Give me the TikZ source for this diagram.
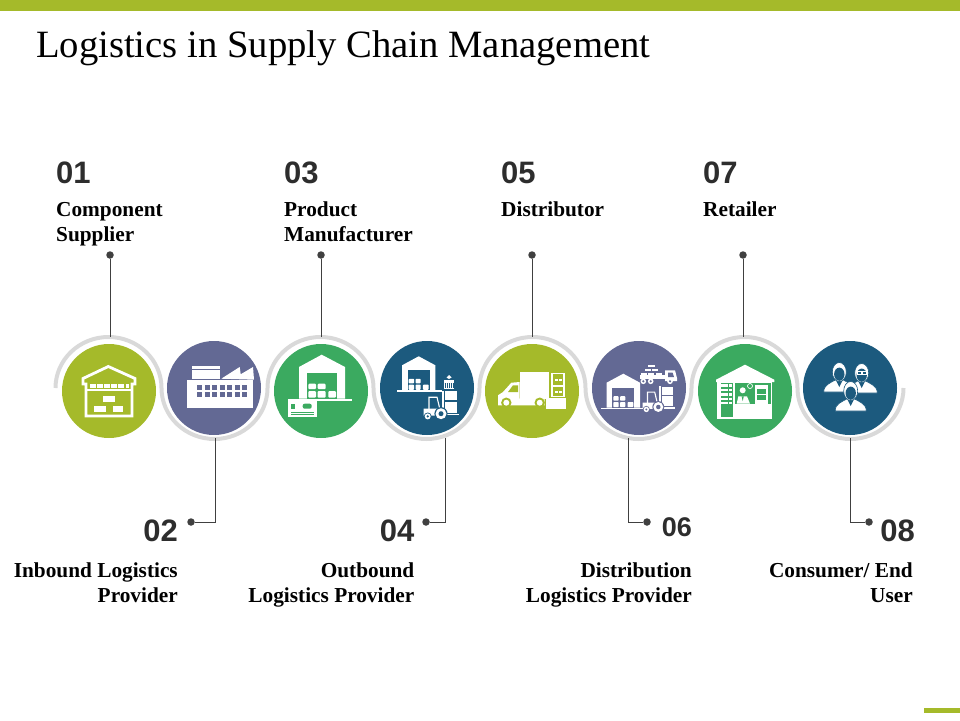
\documentclass[tikz,border=0pt]{standalone}
\usepackage{fontspec}
\setmainfont{Liberation Serif}
\setsansfont{Liberation Sans}
\usepackage{xcolor}
\usetikzlibrary{positioning}
\definecolor{barolive}{RGB}{165,186,42}
\definecolor{duskblue}{RGB}{99,105,148}
\definecolor{midgreen}{RGB}{59,170,96}
\definecolor{deepblue}{RGB}{28,90,126}
\definecolor{wavegrey}{RGB}{217,217,217}
\definecolor{leadgrey}{RGB}{64,64,64}
\definecolor{numgrey}{RGB}{45,45,45}

% small shed, origin at the roof peak; #1 is the disc colour
\newcommand{\shedicon}[1]{
    \fill[white] (0,0) -- (16.7,9) -- (16.7,34) -- (-16.7,34) -- (-16.7,9) -- cycle;
    \fill[#1] (-11,14) rectangle (11,34);
    \fill[white, rounded corners=0.8pt] (-10,22.5) rectangle (-4.6,27);
    \fill[white, rounded corners=0.8pt] (-3.2,22.5) rectangle (2,27);
    \fill[white, rounded corners=0.8pt] (-10,28.3) rectangle (-4.6,33.5);
    \fill[white, rounded corners=0.8pt] (-3.2,28.3) rectangle (2,33.5);
    \fill[white, rounded corners=0.8pt] (4.2,28.3) rectangle (10,33.5);
    \fill[white] (-22,34) rectangle (23,35.7);
}
% forklift, origin at the big wheel
\newcommand{\forklift}[1]{
    \fill[white] (-17.5,-5) -- (-1,-5) -- (0,2) -- (-17.5,2) -- cycle;
    \draw[white, line width=1.1pt] (-12,-4) -- (-12,-16.5) -- (-4,-16.5) -- (-1,-4);
    \fill[white] (1,-23) rectangle (2.7,1.7);
    \fill[white] (1,0) rectangle (18,1.7);
    \fill[white] (3.7,-22.7) rectangle (16,-13.3);
    \fill[white] (3.7,-11.7) rectangle (16,-0.7);
    \fill[#1] (0,0) circle (6.6);
    \fill[white] (0,0) circle (5.5);
    \fill[#1] (0,0) circle (2.5);
    \fill[#1] (-13.3,2.7) circle (3.9);
    \fill[white] (-13.3,2.7) circle (3);
    \fill[#1] (-13.3,2.7) circle (1.2);
}
% person, origin at the head
\newcommand{\personicon}{
    \fill[white, draw=deepblue, line width=0.6pt] (-15.5,20) .. controls (-15.8,13) and (-9,11) .. (-4,8) -- (4,8) .. controls (9,11) and (15.8,13) .. (15.5,20) -- cycle;
    \fill[deepblue] (-3.5,8) -- (3.5,8) -- (0,15) -- cycle;
    \fill[white, draw=deepblue, line width=0.6pt] (0,0) ellipse (7 and 9.5);
    \fill[deepblue] (0,2.2) ellipse (5.2 and 6.6);
}

\begin{document}
\begin{tikzpicture}[
        x=1pt, y=-1pt,
        disc/.style={circle, minimum size=94pt, inner sep=0pt},
        wavepath/.style={draw=wavegrey, line width=4pt},
        leader/.style={draw=leadgrey, line width=1pt},
        pindot/.style={circle, fill=leadgrey, minimum size=7.5pt, inner sep=0pt},
        numlabel/.style={font=\sffamily\bfseries\fontsize{31}{31}\selectfont, text=numgrey, inner sep=0pt},
        toplabel/.style={font=\bfseries\fontsize{21.3}{25}\selectfont, align=left, inner sep=0pt},
        botlabel/.style={font=\bfseries\fontsize{21.3}{25}\selectfont, align=right, inner sep=0pt}
    ]
        \useasboundingbox (0,0) rectangle (960,720);

        % Bars and title
        \fill[barolive] (0,0) rectangle (960,11);
        \fill[barolive] (924,708) rectangle (960,713);
        \node[font=\fontsize{38.65}{40}\selectfont, anchor=base west, inner sep=0pt] (title) at (36,57) {Logistics in Supply Chain Management};

        % Wave behind the discs
        \path[wavepath] (55.5,388)
            arc[start angle=180, end angle=360, x radius=53, y radius=51]
            arc[start angle=180, end angle=0, x radius=53, y radius=51]
            arc[start angle=180, end angle=360, x radius=53, y radius=51]
            arc[start angle=180, end angle=0, x radius=53, y radius=51]
            arc[start angle=180, end angle=360, x radius=53, y radius=51]
            arc[start angle=180, end angle=0, x radius=53, y radius=51]
            arc[start angle=180, end angle=360, x radius=53, y radius=51]
            arc[start angle=180, end angle=0, x radius=53, y radius=51];

        % Discs
        \node[disc, fill=barolive] (c1) at (109,391) {};
        \node[disc, fill=duskblue] (c2) at (214,388) {};
        \node[disc, fill=midgreen] (c3) at (321,391) {};
        \node[disc, fill=deepblue] (c4) at (427,388) {};
        \node[disc, fill=barolive] (c5) at (532,391) {};
        \node[disc, fill=duskblue] (c6) at (639,388) {};
        \node[disc, fill=midgreen] (c7) at (745,391) {};
        \node[disc, fill=deepblue] (c8) at (850,388) {};

        % Top numbers and labels
        \node[numlabel, anchor=base west] (n1) at (56,183) {01};
        \node[toplabel, below=19pt of n1.south west, anchor=north west] (lab1) {Component\\Supplier};
        \node[numlabel, anchor=base west] (n3) at (284,183) {03};
        \node[toplabel, below=18pt of n3.south west, anchor=north west] (lab3) {Product\\Manufacturer};
        \node[numlabel, anchor=base west] (n5) at (501,183) {05};
        \node[toplabel, below=18pt of n5.south west, anchor=north west] (lab5) {Distributor};
        \node[numlabel, anchor=base west] (n7) at (703,183) {07};
        \node[toplabel, below=18pt of n7.south west, anchor=north west] (lab7) {Retailer};

        % Bottom numbers and labels
        \node[numlabel, anchor=base east] (n2) at (178,541) {02};
        \node[botlabel, below=21.5pt of n2.south east, anchor=north east] (lab2) {Inbound Logistics\\Provider};
        \node[numlabel, anchor=base east] (n4) at (414.5,541) {04};
        \node[botlabel, below=21.5pt of n4.south east, anchor=north east] (lab4) {Outbound\\Logistics Provider};
        \node[numlabel, anchor=base east, font=\sffamily\bfseries\fontsize{27}{27}\selectfont] (n6) at (692,536.5) {06};
        \node[botlabel, below=25.5pt of n6.south east, anchor=north east] (lab6) {Distribution\\Logistics Provider};
        \node[numlabel, anchor=base east] (n8) at (915,541) {08};
        \node[botlabel, below=21.5pt of n8.south east, xshift=-2pt, anchor=north east] (lab8) {Consumer/ End\\User};

        % Pins and leaders
        \node[pindot] (dot1) at (110,255) {};
        \node[pindot] (dot3) at (321,255) {};
        \node[pindot] (dot5) at (532,255) {};
        \node[pindot] (dot7) at (743,255) {};
        \node[pindot] (dot2) at (191,522) {};
        \node[pindot] (dot4) at (426,522) {};
        \node[pindot] (dot6) at (647,522) {};
        \node[pindot] (dot8) at (869,522) {};
        \coordinate (top1) at (110,337);
        \coordinate (top3) at (321,337);
        \coordinate (top5) at (532,337);
        \coordinate (top7) at (743,337);
        \coordinate (low2) at (215.5,438);
        \coordinate (low4) at (445,438);
        \coordinate (low6) at (628.5,438);
        \coordinate (low8) at (850.5,438);
        \draw[leader] (dot1) -- (top1);
        \draw[leader] (dot3) -- (top3);
        \draw[leader] (dot5) -- (top5);
        \draw[leader] (dot7) -- (top7);
        \draw[leader] (low2) |- (dot2);
        \draw[leader] (low4) |- (dot4);
        \draw[leader] (low6) |- (dot6);
        \draw[leader] (low8) |- (dot8);

        % Icon 1: warehouse
        \begin{scope}[shift={(c1)}]
            \draw[white, line width=2.8pt, line join=miter] (-26,-7) -- (-26,-12.5) -- (-0.7,-24.5) -- (26,-12.5) -- (26,-7) -- (23,-7) -- (23,25) -- (-23,25) -- (-23,-7) -- cycle;
            \draw[white, line width=3.8pt, dash pattern=on 5.5pt off 1.6pt] (-19,-5) -- (20,-5);
            \fill[white] (-23,-2) rectangle (23,-0.5);
            \fill[white] (-5.7,5.3) rectangle (6,11);
            \fill[white] (-14.7,15.3) rectangle (-3.3,21);
            \fill[white] (3.7,15.3) rectangle (14.3,21);
        \end{scope}

        % Icon 2: factory
        \begin{scope}[shift={(c2)}]
            \fill[white] (-26.7,-7.7) rectangle (39,20);
            \fill[white] (-21.7,-21.7) rectangle (5.7,-9.3);
            \draw[duskblue, line width=0.7pt] (-21.7,-19) -- (5.7,-19);
            \fill[white] (7.3,-9.3) -- (25.7,-21) -- (26.7,-13.7) -- (39,-21) -- (40,-8.3) -- cycle;
            \draw[duskblue, line width=5pt, dash pattern=on 5pt off 2.5pt] (-16.7,-0.3) -- (33.3,-0.3);
            \draw[duskblue, line width=5pt, dash pattern=on 5pt off 2.5pt] (-16.7,6.3) -- (33.3,6.3);
        \end{scope}

        % Icon 3: warehouse with card
        \begin{scope}[shift={(c3)}]
            \fill[white] (0.7,-36.3) -- (24,-24) -- (24,7.7) -- (-22,7.7) -- (-22,-24) -- cycle;
            \fill[midgreen] (-13.7,-18) rectangle (16.3,7.7);
            \fill[white, rounded corners=1pt] (-12.7,-7.3) rectangle (-5,-1.9);
            \fill[white, rounded corners=1pt] (-3.3,-7.3) rectangle (4.7,-1.9);
            \fill[white, rounded corners=1pt] (-12.7,0) rectangle (-5,6.7);
            \fill[white, rounded corners=1pt] (-3.3,0) rectangle (4.7,6.7);
            \fill[white, rounded corners=1pt] (7.3,0) rectangle (15,6.7);
            \fill[white] (-32.7,8.3) rectangle (30.7,10);
            \fill[white] (-32.7,9) rectangle (-4.3,26);
            \fill[midgreen] (-30.3,12.7) rectangle (-26,17.7);
            \fill[midgreen, rounded corners=2pt] (-18.3,12.7) rectangle (-9.3,17.7);
            \draw[midgreen, line width=0.7pt] (-30,21) -- (-7,21);
            \draw[midgreen, line width=0.7pt] (-30,23.7) -- (-7,23.7);
        \end{scope}

        % Icon 4: shed, forklift and container
        \begin{scope}[shift={(c4)}]
            \begin{scope}[shift={(-8.3,-31.7)}]
                \shedicon{deepblue}
            \end{scope}
            \begin{scope}[shift={(14,25.7)}]
                \forklift{deepblue}
            \end{scope}
            \fill[white] (16.7,-7.7) rectangle (27.3,0.7);
            \draw[deepblue, line width=4.5pt, dash pattern=on 0.8pt off 1.2pt] (17.5,-2.5) -- (26.5,-2.5);
            \fill[white] (22,-13) -- (24.5,-10.5) -- (22,-9) -- (19.5,-10.5) -- cycle;
        \end{scope}

        % Icon 5: van and crates
        \begin{scope}[shift={(c5)}]
            \fill[white] (-12.3,-19) rectangle (16.7,7.7);
            \fill[white] (-12.3,-9) -- (-20.7,-8.3) -- (-29,1) -- (-34,4.3) -- (-34,14.3) -- (12.7,14.3) -- (12.7,7.7) -- (-12.3,7.7) -- cycle;
            \fill[barolive] (-19,-5.7) -- (-14,-5.7) -- (-14,1) -- (-24,1) -- cycle;
            \fill[barolive] (-25.7,11.7) circle (5.2);
            \fill[white] (-25.7,11.7) circle (3);
            \fill[barolive] (7.7,11.7) circle (5.2);
            \fill[white] (7.7,11.7) circle (3);
            \fill[white] (14.3,6.7) rectangle (34.3,17.7);
            \draw[white, line width=1.4pt] (20,-17.3) rectangle (32,-5.7);
            \draw[white, line width=1.4pt] (20,-5) rectangle (32,5.3);
            \fill[white] (23,-12) rectangle (25.5,-10);
            \fill[white] (27,-12) rectangle (29.5,-10);
            \fill[white] (23,0) rectangle (25.5,2);
            \fill[white] (27,0) rectangle (29.5,2);
        \end{scope}

        % Icon 6: shed, forklift and truck
        \begin{scope}[shift={(c6)}]
            \begin{scope}[shift={(-15.7,-14.3)}]
                \shedicon{duskblue}
            \end{scope}
            \begin{scope}[shift={(19.3,19)}, scale=0.9]
                \forklift{duskblue}
            \end{scope}
            \fill[white] (9.3,-23.3) rectangle (16,-21);
            \fill[white] (6,-19.3) rectangle (12,-17);
            \fill[white] (13.3,-19.3) rectangle (19.3,-17);
            \fill[white] (1.7,-15.3) rectangle (7.7,-13.3);
            \fill[white] (9.3,-15.3) rectangle (15.3,-13.3);
            \fill[white] (17,-15.3) rectangle (22.7,-13.3);
            \fill[white] (1,-12.7) rectangle (26,-9.3);
            \fill[white] (26,-17.7) -- (36,-17.7) -- (38,-10) -- (38,-7) -- (26,-7) -- cycle;
            \fill[duskblue] (29,-15.5) -- (33.5,-15.5) -- (35,-11) -- (29,-11) -- cycle;
            \fill[white] (4.3,-6.7) circle (2.8);
            \fill[duskblue] (4.3,-6.7) circle (1.2);
            \fill[white] (11.7,-6.7) circle (2.8);
            \fill[duskblue] (11.7,-6.7) circle (1.2);
            \fill[white] (31,-6.7) circle (2.8);
            \fill[duskblue] (31,-6.7) circle (1.2);
        \end{scope}

        % Icon 7: shop
        \begin{scope}[shift={(c7)}]
            \fill[white] (0,-26.3) -- (29.3,-11.3) -- (29.3,-9) -- (-29,-9) -- (-29,-11.3) -- cycle;
            \fill[white] (-27.7,-9) rectangle (27.3,27.7);
            \fill[midgreen] (-24.3,-8) rectangle (-12.3,26);
            \draw[white, line width=6.5pt, dash pattern=on 2.7pt off 1.7pt] (-20.7,-6.7) -- (-20.7,13.3);
            \draw[white, line width=2.5pt, dash pattern=on 2.7pt off 1.7pt] (-14.7,-6.7) -- (-14.7,13.3);
            \fill[midgreen] (-10,-8) rectangle (26,12.7);
            \fill[white] (-2.3,-0.7) circle (3);
            \fill[white] (-8.3,12.7) -- (-6.7,5.3) -- (2,5.3) -- (5,12.7) -- cycle;
            \fill[midgreen] (-3.4,5.3) -- (-1.2,5.3) -- (-2.3,10) -- cycle;
            \draw[white, line width=0.7pt] (5,-5) circle (2.5);
            \fill[white] (10,-5.7) rectangle (22.7,12.7);
            \fill[midgreen] (11.7,-2.3) rectangle (21,2.7);
            \fill[midgreen] (11.7,4.3) rectangle (21,9.3);
        \end{scope}

        % Icon 8: three people
        \begin{scope}[shift={(c8)}]
            \begin{scope}[shift={(-10.7,-16)}]
                \personicon
            \end{scope}
            \begin{scope}[shift={(11.7,-15)}]
                \personicon
                \draw[white, line width=0.6pt] (-4.8,-1.5) rectangle (-0.8,1.5);
                \draw[white, line width=0.6pt] (0.8,-1.5) rectangle (4.8,1.5);
            \end{scope}
            \begin{scope}[shift={(0.7,3)}]
                \personicon
            \end{scope}
        \end{scope}

    \end{tikzpicture}
\end{document}
